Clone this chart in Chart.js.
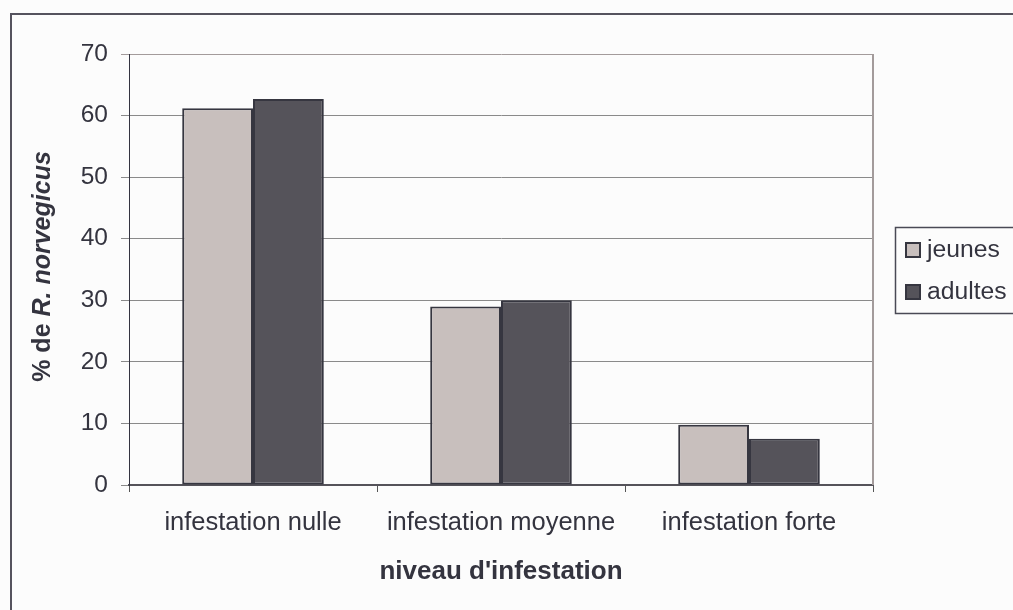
<!DOCTYPE html>
<html><head><meta charset="utf-8">
<script src="https://cdn.jsdelivr.net/npm/chart.js@4.4.1/dist/chart.umd.min.js"></script>
<style>
html,body{margin:0;padding:0;background:#fcfcfc;overflow:hidden}
#wrap{position:absolute;left:0;top:0;width:1013px;height:610px}
</style>
</head><body>
<div id="wrap"><canvas id="c" width="1013" height="610"></canvas></div>
<script>
const categories = ['infestation nulle', 'infestation moyenne', 'infestation forte'];
const seriesNames = ['jeunes', 'adultes'];
const jeunes = [61.2, 29.0, 9.8];
const adultes = [62.7, 30.0, 7.5];
const yTicks = [0, 10, 20, 30, 40, 50, 60, 70];
const xTitle = "niveau d'infestation";
const yTitlePlain = '% de ';
const yTitleItalic = 'R. norvegicus';

const FONT = "'Liberation Sans', Arial, sans-serif";
const TXT = '#34343f';
const fills = ['#c8bfbd', '#55535a'];
const EDGE = '#363640';

const framePlugin = {
  id: 'frame',
  beforeDraw(chart) {
    const ctx = chart.ctx;
    ctx.save();
    ctx.fillStyle = '#fcfcfc';
    ctx.fillRect(0, 0, chart.width, chart.height);
    ctx.strokeStyle = '#55535e';
    ctx.lineWidth = 2;
    ctx.strokeRect(11, 14, chart.width + 20, chart.height + 20);
    ctx.restore();
  },
  beforeDatasetsDraw(chart) {
    const ctx = chart.ctx, a = chart.chartArea;
    ctx.save();
    ctx.strokeStyle = '#a39b9b';
    ctx.lineWidth = 2;
    ctx.beginPath();
    ctx.moveTo(a.right, a.top);
    ctx.lineTo(a.right, a.bottom);
    ctx.stroke();
    ctx.restore();
  },
  afterDraw(chart) {
    const ctx = chart.ctx, a = chart.chartArea;
    // y axis title (mixed bold / bold italic)
    ctx.save();
    const cy = (a.top + a.bottom) / 2 - 3;
    ctx.translate(43, cy);
    ctx.rotate(-Math.PI / 2);
    ctx.fillStyle = TXT;
    ctx.textBaseline = 'middle';
    ctx.textAlign = 'left';
    const f1 = 'bold 25px ' + FONT, f2 = 'italic bold 25px ' + FONT;
    ctx.font = f1; const w1 = ctx.measureText(yTitlePlain).width;
    ctx.font = f2; const w2 = ctx.measureText(yTitleItalic).width;
    let x0 = -(w1 + w2) / 2;
    ctx.font = f1; ctx.fillText(yTitlePlain, x0, 0);
    ctx.font = f2; ctx.fillText(yTitleItalic, x0 + w1, 0);
    ctx.restore();

    // legend
    ctx.save();
    const lx = 895, ly = 227, lh = 86;
    ctx.strokeStyle = '#4a4a55';
    ctx.lineWidth = 1.5;
    ctx.strokeRect(lx + 0.5, ly + 0.5, 200, lh);
    ctx.font = '24.7px ' + FONT;
    ctx.textBaseline = 'middle';
    ctx.textAlign = 'left';
    chart.data.datasets.forEach((ds, i) => {
      const my = 250 + i * 42;
      ctx.fillStyle = ds.backgroundColor;
      ctx.fillRect(905, my - 8, 16, 16);
      ctx.strokeStyle = EDGE;
      ctx.lineWidth = 2;
      ctx.strokeRect(906, my - 7, 14, 14);
      ctx.fillStyle = TXT;
      ctx.fillText(ds.label, 927, my);
    });
    ctx.restore();
  }
};

new Chart(document.getElementById('c'), {
  type: 'bar',
  data: {
    labels: categories,
    datasets: [
      { label: seriesNames[0], data: jeunes, backgroundColor: fills[0], borderColor: EDGE, borderWidth: 2, borderSkipped: false },
      { label: seriesNames[1], data: adultes, backgroundColor: fills[1], borderColor: EDGE, borderWidth: 2, borderSkipped: false }
    ]
  },
  options: {
    responsive: false,
    animation: false,
    devicePixelRatio: 1,
    categoryPercentage: 0.571,
    barPercentage: 1,
    layout: { padding: { left: 0, top: 54, right: 140, bottom: 0 } },
    plugins: { legend: { display: false }, tooltip: { enabled: false } },
    scales: {
      x: {
        grid: { display: true, drawOnChartArea: false, drawTicks: true, tickLength: 7, color: '#555', offset: true },
        border: { display: true, color: '#55535a', width: 2 },
        ticks: { font: { family: FONT, size: 25.5 }, color: TXT, padding: 16 },
        title: { display: true, text: xTitle, color: TXT, font: { family: FONT, size: 26, weight: 'bold' }, padding: { top: 0, bottom: 23 } },
        afterFit: s => { s.height = 125; }
      },
      y: {
        min: 0, max: 70,
        afterBuildTicks: s => { s.ticks = yTicks.map(v => ({ value: v })); },
        grid: { color: c => (c.tick && c.tick.value === 70) ? '#a39b9b' : '#8a8a8a', tickLength: 8, lineWidth: 1 },
        border: { display: true, color: '#333340', width: 1 },
        ticks: { font: { family: FONT, size: 24.5 }, color: TXT, padding: 13 },
        afterFit: s => { s.width = 129; }
      }
    }
  },
  plugins: [framePlugin]
});
</script>
</body></html>
